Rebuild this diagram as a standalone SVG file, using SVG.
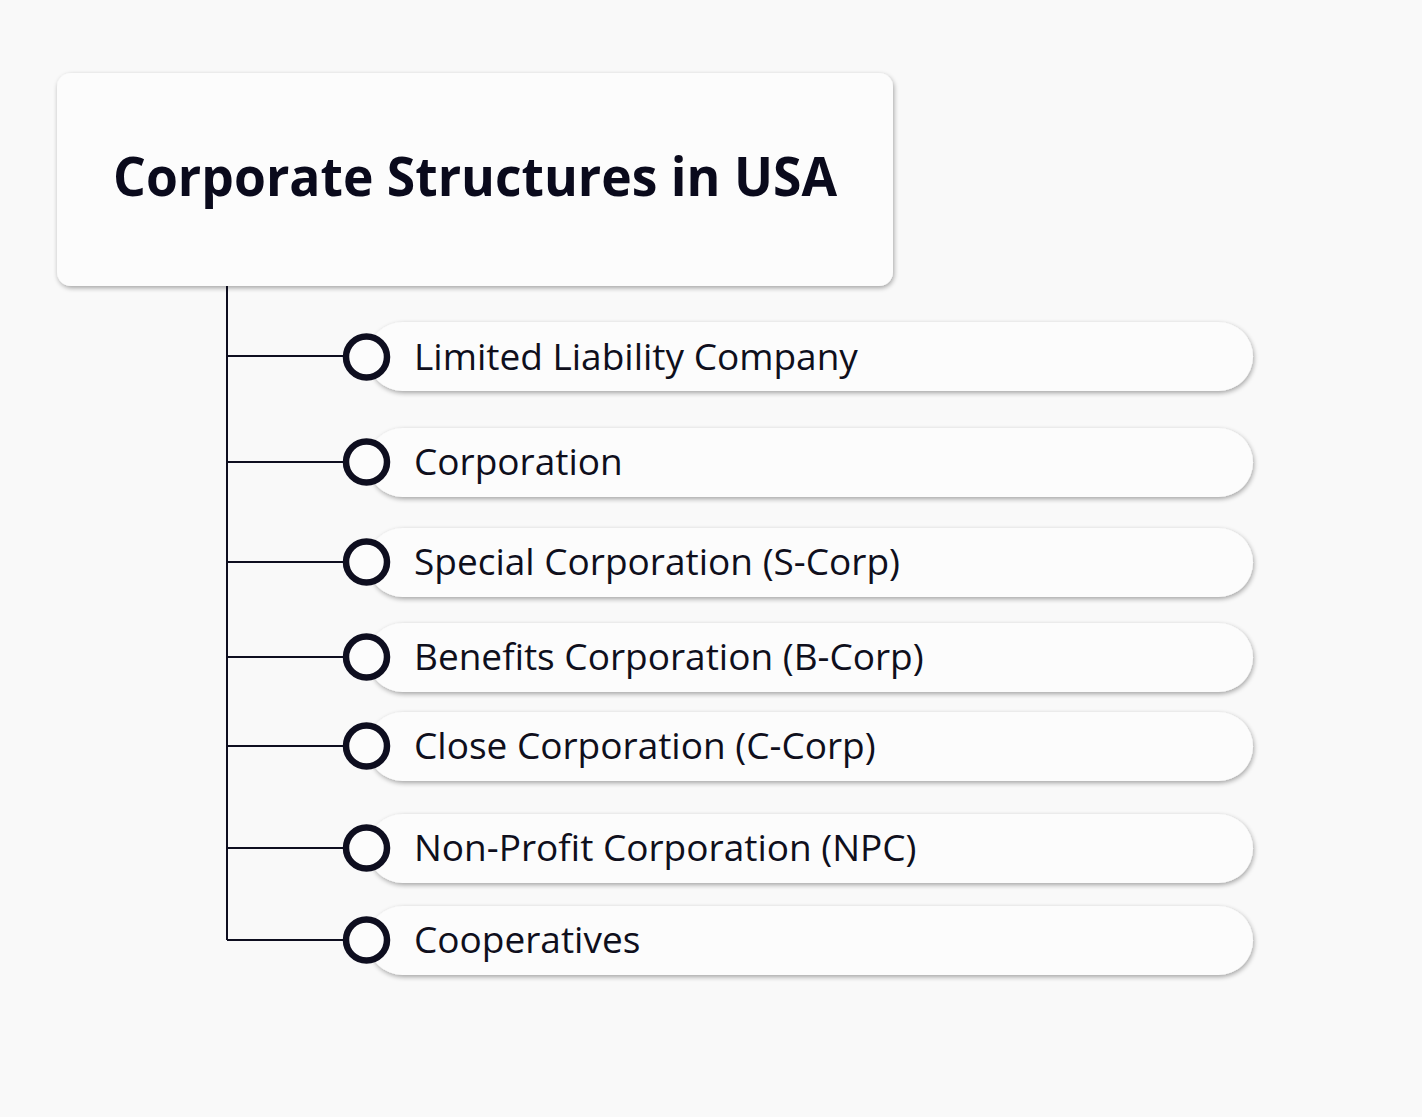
<svg xmlns="http://www.w3.org/2000/svg" width="1422" height="1117" viewBox="0 0 1422 1117">
<defs>
<filter id="sh" x="-10%" y="-30%" width="120%" height="160%">
<feGaussianBlur in="SourceAlpha" stdDeviation="2.5"/>
<feOffset dx="1" dy="2" result="b"/>
<feComponentTransfer><feFuncA type="linear" slope="0.35"/></feComponentTransfer>
<feMerge><feMergeNode/><feMergeNode in="SourceGraphic"/></feMerge>
</filter>
<style>
.pill{fill:#fcfcfc;filter:url(#sh)}
.lbl{font-family:"Open Sans","Noto Sans","Liberation Sans",sans-serif;font-size:37px;fill:#0f0f1c}
.dot{fill:#fcfcfc;stroke:#0e0e1f;stroke-width:6.5}
.con{stroke:#0e0e1f;stroke-width:2;fill:none}
</style>
</defs>
<rect width="1422" height="1117" fill="#f9f9f9"/>
<g id="root">
<rect x="57" y="73" width="836" height="213" rx="14" fill="#fcfcfc" filter="url(#sh)"/>
<text x="113" y="196" font-family="'Open Sans','Noto Sans','Liberation Sans',sans-serif" font-weight="bold" font-size="53" fill="#0a0a1c" textLength="724" lengthAdjust="spacingAndGlyphs">Corporate Structures in USA</text>
</g>
<g id="connectors">
<path class="con" d="M227 286V940"/>
<path class="con" d="M227 356H346M227 462H346M227 562H346M227 657H346M227 746H346M227 848H346M227 940H346"/>
</g>
<g id="n1"><rect class="pill" x="368" y="322" width="885" height="69" rx="34.5"/><circle class="dot" cx="366.5" cy="357" r="20.5"/><text class="lbl" x="414" y="370">Limited Liability Company</text></g>
<g id="n2"><rect class="pill" x="368" y="428" width="885" height="69" rx="34.5"/><circle class="dot" cx="366.5" cy="462" r="20.5"/><text class="lbl" x="414" y="475">Corporation</text></g>
<g id="n3"><rect class="pill" x="368" y="528" width="885" height="69" rx="34.5"/><circle class="dot" cx="366.5" cy="562" r="20.5"/><text class="lbl" x="414" y="575">Special Corporation (S-Corp)</text></g>
<g id="n4"><rect class="pill" x="368" y="623" width="885" height="69" rx="34.5"/><circle class="dot" cx="366.5" cy="657" r="20.5"/><text class="lbl" x="414" y="670">Benefits Corporation (B-Corp)</text></g>
<g id="n5"><rect class="pill" x="368" y="712" width="885" height="69" rx="34.5"/><circle class="dot" cx="366.5" cy="746" r="20.5"/><text class="lbl" x="414" y="759">Close Corporation (C-Corp)</text></g>
<g id="n6"><rect class="pill" x="368" y="814" width="885" height="69" rx="34.5"/><circle class="dot" cx="366.5" cy="848" r="20.5"/><text class="lbl" x="414" y="861">Non-Profit Corporation (NPC)</text></g>
<g id="n7"><rect class="pill" x="368" y="906" width="885" height="69" rx="34.5"/><circle class="dot" cx="366.5" cy="940" r="20.5"/><text class="lbl" x="414" y="953">Cooperatives</text></g>
</svg>
